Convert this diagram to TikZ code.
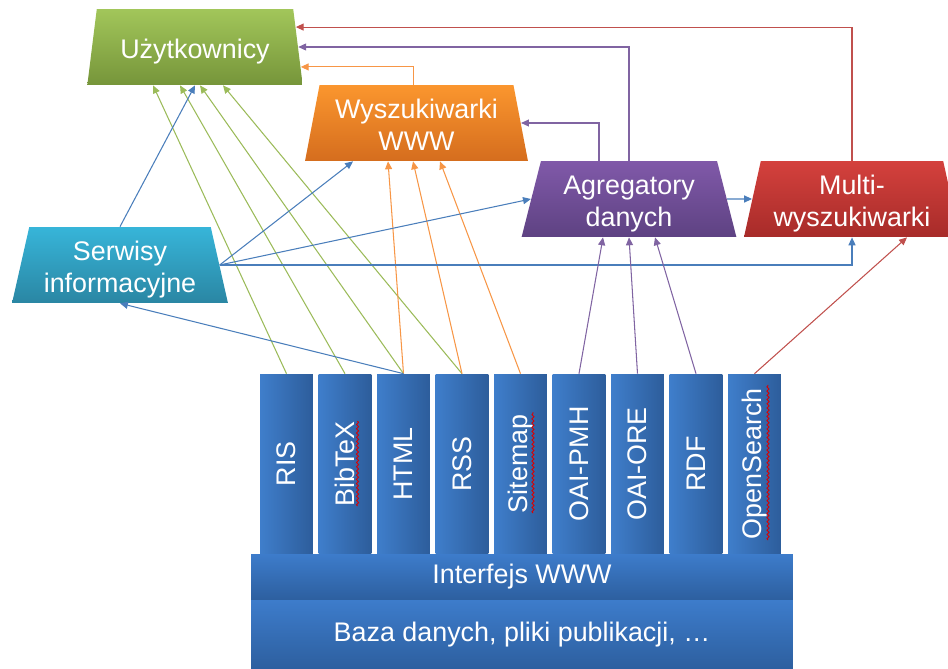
\documentclass[tikz,border=0pt]{standalone}
\usepackage{fontspec}
\setmainfont{Liberation Sans}
\usetikzlibrary{shapes.geometric,arrows.meta,calc,decorations.pathmorphing}

% box colours (top / bottom of the gradient)
\definecolor{usrtop}{HTML}{A2C65A}
\definecolor{usrbot}{HTML}{76953A}
\definecolor{wwwtop}{HTML}{FB962E}
\definecolor{wwwbot}{HTML}{D56D1E}
\definecolor{aggtop}{HTML}{8059A9}
\definecolor{aggbot}{HTML}{5E4282}
\definecolor{muttop}{HTML}{D4413D}
\definecolor{mutbot}{HTML}{A72B29}
\definecolor{srvtop}{HTML}{37B5D9}
\definecolor{srvbot}{HTML}{2A86A3}
\definecolor{colleft}{HTML}{3F7ECB}
\definecolor{colright}{HTML}{2D5D9B}
\definecolor{bartop}{HTML}{3D7CCB}
\definecolor{barbot}{HTML}{2D5F9F}
% connector colours
\definecolor{lgreen}{HTML}{9BBB59}
\definecolor{lblue}{HTML}{4A7EBB}
\definecolor{lorange}{HTML}{F79646}
\definecolor{lpurple}{HTML}{8064A2}
\definecolor{lred}{HTML}{C0504D}

% label of a box, lines centred and set a little low
\newcommand{\boxlbl}[1]{\raisebox{-3pt}[\height][\depth]{\begin{tabular}{@{}c@{}}#1\end{tabular}}}

\tikzset{
	txt/.style={text=white, font=\fontsize{15.3}{17.8}\selectfont},
	box/.style={txt, trapezium, trapezium angle=77, trapezium stretches=true,
		minimum width=4.32cm, minimum height=1.52cm, inner sep=0pt},
	col/.style={txt, rectangle, minimum width=1.06cm, minimum height=3.6cm,
		inner sep=0pt, left color=colleft, right color=colright},
	bar/.style={txt, rectangle, minimum width=10.84cm, inner sep=0pt,
		top color=bartop, bottom color=barbot},
	link/.style={-{Triangle[length=4.5pt,width=4pt]}, line width=0.6pt},
	typo/.style={red!85!black, line width=0.5pt, decorate,
		decoration={snake, segment length=2.4pt, amplitude=0.6pt}}
}

\begin{document}
\begin{tikzpicture}[x=0.02cm, y=-0.02cm]

		\useasboundingbox (0,0) rectangle (948,669);

		% layers at the bottom
		\node[bar, minimum height=0.92cm] (iface) at (522,577) {Interfejs WWW};
		\node[bar, minimum height=1.38cm] (base) at (522,634.5) {Baza danych, pliki publikacji, …};

		% formats
		\foreach \nm/\lbl [count=\k from 0] in {ris/RIS, bib/BibTeX, html/HTML, rss/RSS,
				smap/Sitemap, pmh/OAI-PMH, ore/OAI-ORE, rdf/RDF, osrch/OpenSearch}
			\node[col] (\nm) at (286.5+58.5*\k,464) {\rotatebox{90}{\lbl}};

		% spelling marks
		\draw[typo] ($(bib)+(12.5,42)$) -- ($(bib)+(12.5,-43)$);
		\draw[typo] ($(smap)+(12.5,49)$) -- ($(smap)+(12.5,-52)$);
		\draw[typo] ($(osrch)+(13.5,76)$) -- ($(osrch)+(13.5,-79)$);

		% consumers
		\node[box, top color=usrtop, bottom color=usrbot] (uzyt) at (195,47) {\boxlbl{Użytkownicy}};
		\node[box, trapezium angle=79, minimum width=4.46cm,
			top color=wwwtop, bottom color=wwwbot] (wysz) at (416.5,123) {\boxlbl{Wyszukiwarki\\WWW}};
		\node[box, top color=aggtop, bottom color=aggbot] (agreg) at (629,199) {\boxlbl{Agregatory\\danych}};
		\node[box, top color=muttop, bottom color=mutbot] (multi) at (852,199) {\boxlbl{Multi-\\wyszukiwarki}};
		\node[box, top color=srvtop, bottom color=srvbot] (serw) at (120,265) {\boxlbl{Serwisy\\informacyjne}};

		% points on the right side of the users box
		\coordinate (uzytR1) at ($(uzyt.top right corner)!0.24!(uzyt.bottom right corner)$);
		\coordinate (uzytR3) at ($(uzyt.top right corner)!0.76!(uzyt.bottom right corner)$);

		%% Connectors %%
		% green: straight to users
		\draw[link, lgreen] (ris.north) -- ($(uzyt.south)+(-42,0)$);
		\draw[link, lgreen] (bib.north) -- ($(uzyt.south)+(-15,0)$);
		\draw[link, lgreen] (html.north) -- ($(uzyt.south)+(5,0)$);
		\draw[link, lgreen] (rss.north) -- ($(uzyt.south)+(28,0)$);

		% orange: web search engines
		\draw[link, lorange] (html.north) -- ($(wysz.south)+(-28.5,0)$);
		\draw[link, lorange] (rss.north) -- ($(wysz.south)+(-3.5,0)$);
		\draw[link, lorange] (smap.north) -- ($(wysz.south)+(23.5,0)$);
		\draw[link, lorange] ($(wysz.north)+(-3,0)$) |- (uzytR3);

		% blue: information services
		\draw[link, lblue] (html.north) -- (serw.south);
		\draw[link, lblue] (serw.north) -- (uzyt.south);
		\draw[link, lblue] (serw.east) -- ($(wysz.south)+(-63.5,0)$);
		\draw[link, lblue] (serw.east) -- (agreg.west);
		\draw[link, lblue] (serw.east) -| (multi.south);
		\draw[link, lblue] (agreg.east) -- (multi.west);

		% purple: aggregators
		\draw[link, lpurple] (pmh.north) -- ($(agreg.south)+(-26,0)$);
		\draw[link, lpurple] (ore.north) -- (agreg.south);
		\draw[link, lpurple] (rdf.north) -- ($(agreg.south)+(26,0)$);
		\draw[link, lpurple] ($(agreg.north)+(-30,0)$) |- (wysz.east);
		\draw[link, lpurple] (agreg.north) |- (uzyt.east);

		% red: meta search
		\draw[link, lred] (osrch.north) -- ($(multi.south)+(55,0)$);
		\draw[link, lred] (multi.north) |- (uzytR1);

	\end{tikzpicture}
\end{document}
